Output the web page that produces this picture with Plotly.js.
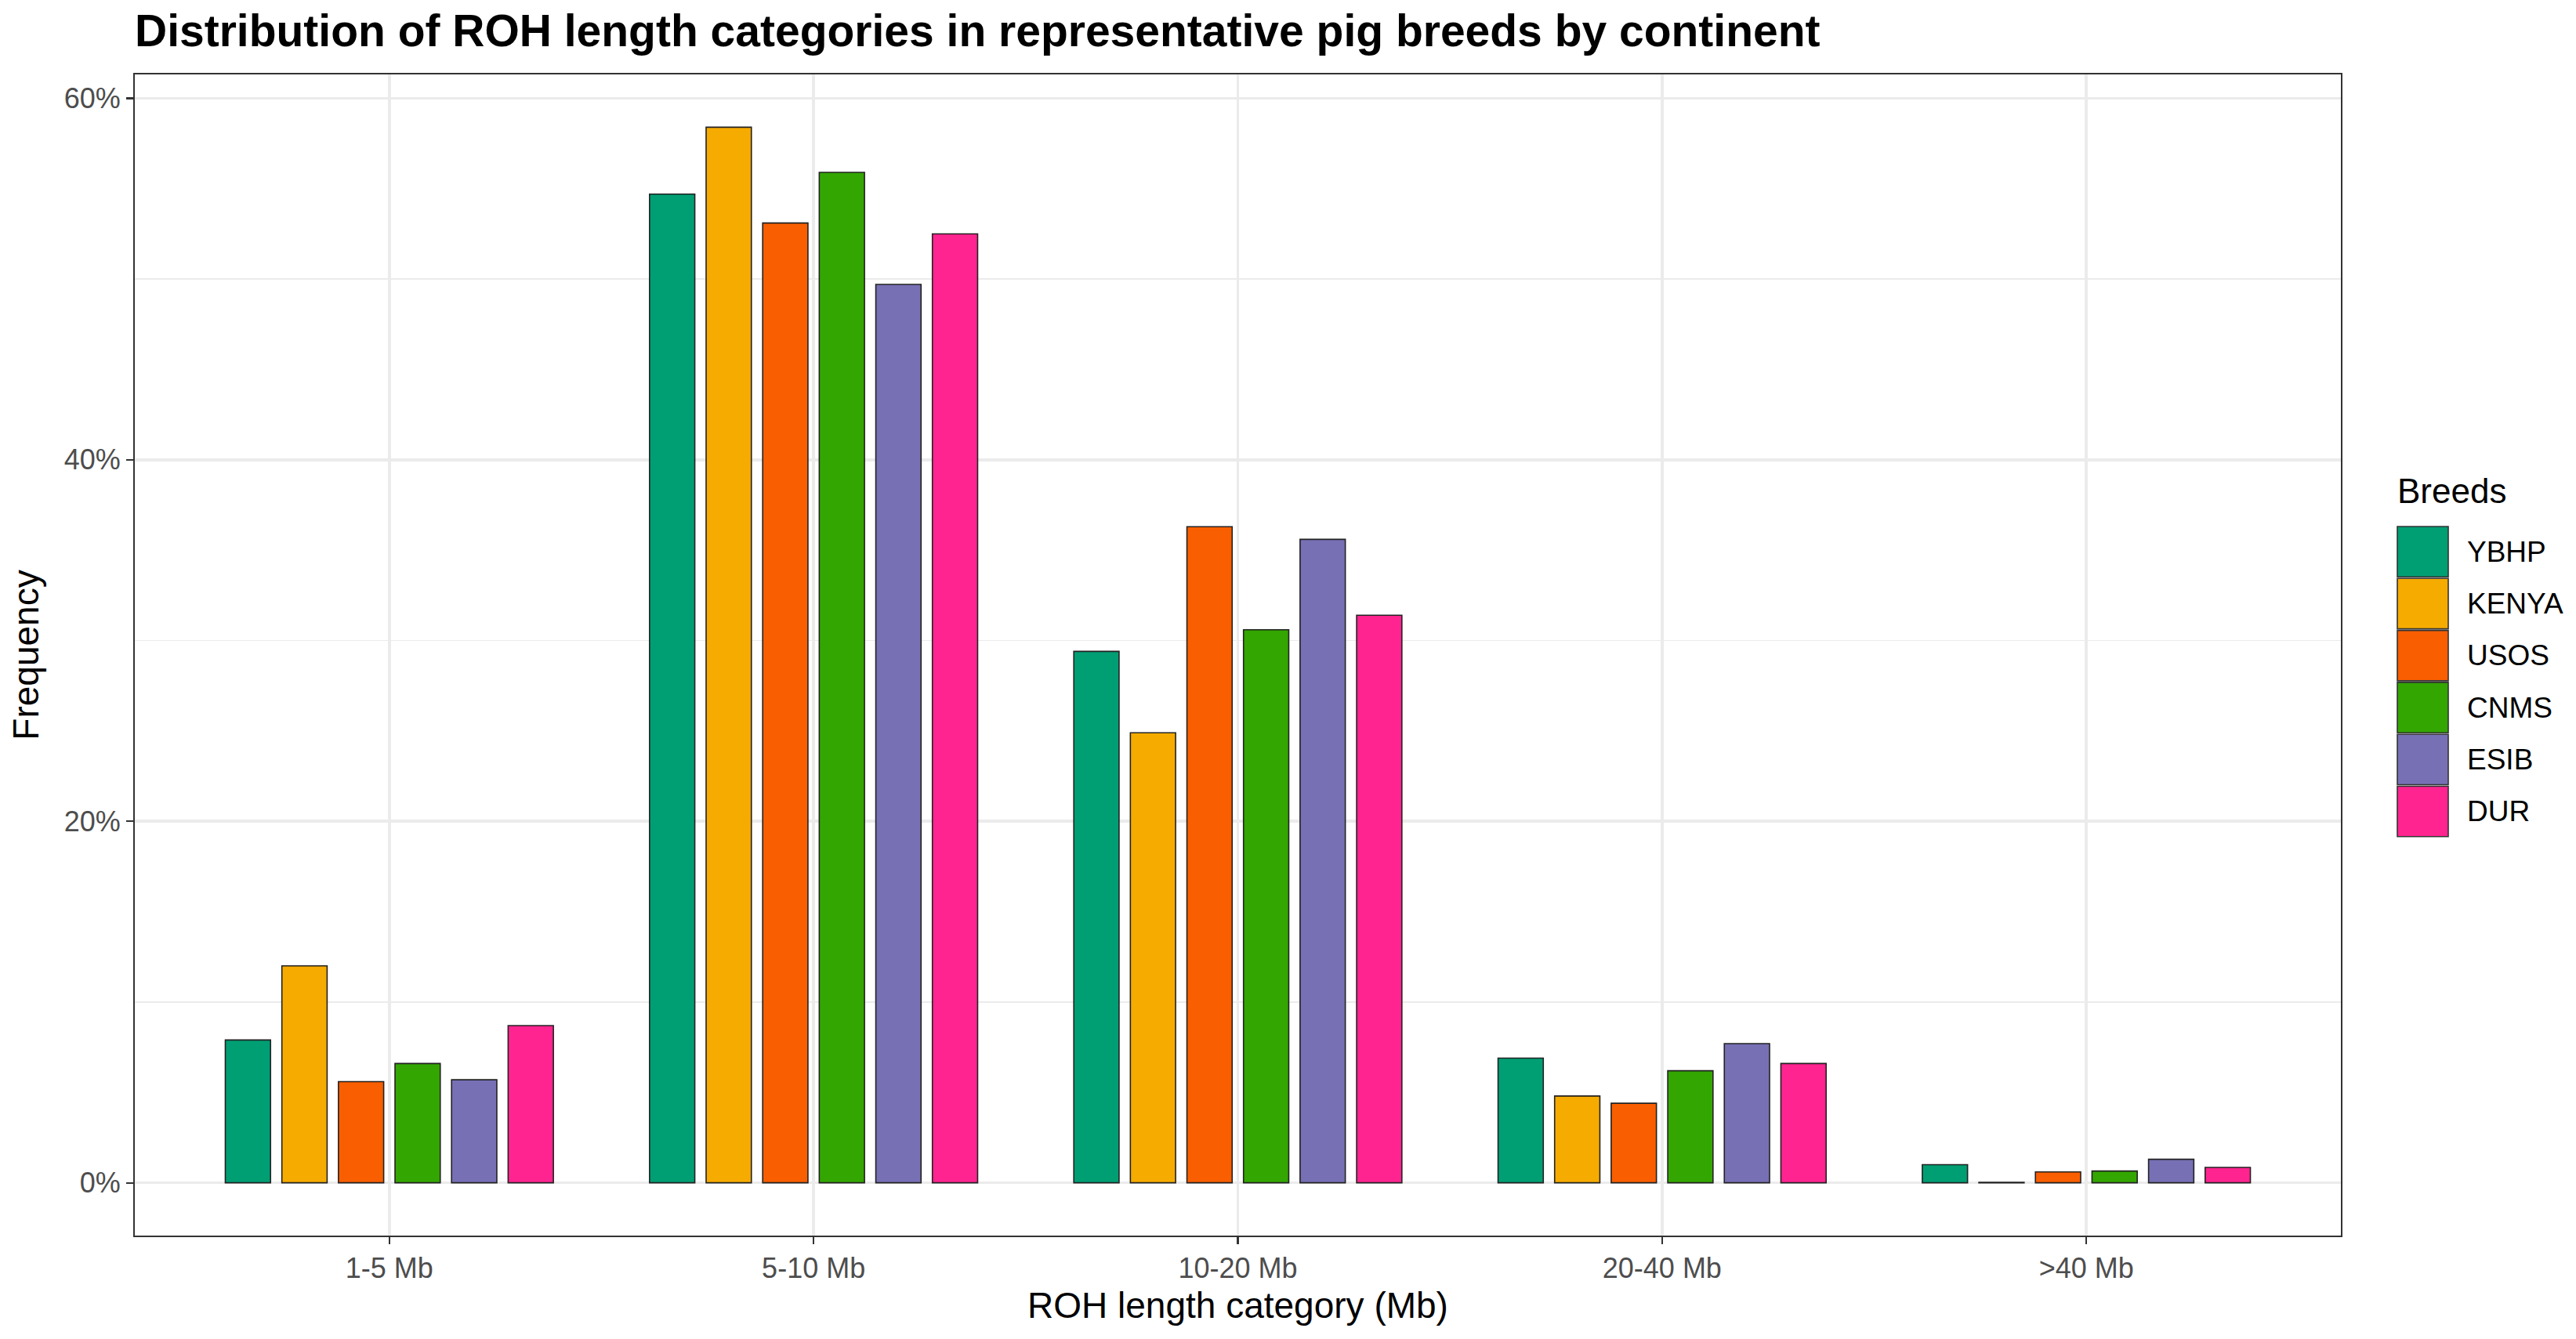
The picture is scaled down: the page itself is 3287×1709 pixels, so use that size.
<!DOCTYPE html>
<html>
<head>
<meta charset="utf-8">
<script src="https://cdn.plot.ly/plotly-3.0.1.min.js"></script>
<style>
  html, body { margin: 0; padding: 0; background: #fff; }
  #chart { width: 3287px; height: 1709px; }
</style>
</head>
<body>
<div id="chart"></div>
<script>
"use strict";

// ROH length categories on the x axis
const categories = ["1-5 Mb", "5-10 Mb", "10-20 Mb", "20-40 Mb", ">40 Mb"];

// breeds (legend order) and their fill colours
const breeds = ["YBHP", "KENYA", "USOS", "CNMS", "ESIB", "DUR"];
const breedColors = ["#009E73", "#F6AB00", "#F95E00", "#33A602", "#7770B5", "#FF2490"];

// frequency (%) per breed, one value per category
const ybhp  = [7.9, 54.7, 29.4, 6.9, 1.0];
const kenya = [12.0, 58.4, 24.9, 4.8, 0.02];
const usos  = [5.6, 53.1, 36.3, 4.4, 0.6];
const cnms  = [6.6, 55.9, 30.6, 6.2, 0.65];
const esib  = [5.7, 49.7, 35.6, 7.7, 1.3];
const dur   = [8.7, 52.5, 31.4, 6.6, 0.85];

const seriesValues = [ybhp, kenya, usos, cnms, esib, dur];

const yTicks = [0, 20, 40, 60];

const W = 3287, H = 1709;
const plotLeft = 172, plotRight = 2987, plotTop = 95, plotBottom = 1577;

// helpers: pixel -> paper coords (used for the hand-drawn legend only)
function px(x) { return (x - plotLeft) / (plotRight - plotLeft); }
function py(y) { return (plotBottom - y) / (plotBottom - plotTop); }

let traces = breeds.map(function (name, i) {
    return {
        type: "bar",
        name: name,
        x: categories,
        y: seriesValues[i],
        marker: {
            color: breedColors[i],
            line: { color: "#222222", width: 1.6 }
        },
        hoverinfo: "x+y+name",
        showlegend: false
    };
});

// legend built as shapes + text so the keys get ggplot-sized squares
let shapes = [];
let annotations = [];
const keyLeft = 3059, keyRight = 3124, keyTop = 671, keyH = 66.3;
breeds.forEach(function (name, i) {
    let top = keyTop + i * keyH;
    shapes.push({
        type: "rect", xref: "paper", yref: "paper",
        x0: px(keyLeft), x1: px(keyRight),
        y0: py(top + keyH - 1), y1: py(top + 1),
        fillcolor: breedColors[i],
        line: { color: "#333333", width: 1.6 }
    });
    annotations.push({
        xref: "paper", yref: "paper",
        x: px(3146), y: py(top + keyH / 2),
        xanchor: "left", yanchor: "middle",
        text: name, showarrow: false,
        font: { family: "Liberation Sans, Arial, sans-serif", size: 37, color: "#000000" }
    });
});
annotations.push({
    xref: "paper", yref: "paper",
    x: px(3057), y: py(627),
    xanchor: "left", yanchor: "middle",
    text: "Breeds", showarrow: false,
    font: { family: "Liberation Sans, Arial, sans-serif", size: 44, color: "#000000" }
});

let layout = {
    width: W,
    height: H,
    margin: { l: plotLeft, r: W - plotRight, t: plotTop, b: H - plotBottom, pad: 0 },
    paper_bgcolor: "#FFFFFF",
    plot_bgcolor: "#FFFFFF",
    font: { family: "Liberation Sans, Arial, sans-serif", color: "#000000" },
    title: {
        text: "<b>Distribution of ROH length categories in representative pig breeds by continent</b>",
        xref: "container", yref: "container",
        x: plotLeft / W, xanchor: "left",
        y: 1 - 39 / H, yanchor: "middle",
        font: { size: 57, color: "#000000" }
    },
    barmode: "group",
    bargap: 0.2,
    bargroupgap: 0.2,
    showlegend: false,
    xaxis: {
        type: "category",
        range: [-0.6, categories.length - 0.4],
        showgrid: true,
        gridcolor: "#EBEBEB",
        gridwidth: 3.5,
        showline: true,
        mirror: true,
        linecolor: "#333333",
        linewidth: 2,
        ticks: "outside",
        ticklen: 9,
        tickwidth: 2.2,
        tickcolor: "#333333",
        tickfont: { size: 36, color: "#4D4D4D" },
        zeroline: false,
        title: {
            text: "ROH length category (Mb)",
            font: { size: 46, color: "#000000" },
            standoff: 12
        }
    },
    yaxis: {
        range: [-2.92, 61.32],
        tickvals: yTicks,
        ticktext: yTicks.map(function (v) { return v + "%"; }),
        showgrid: true,
        gridcolor: "#EBEBEB",
        gridwidth: 3.5,
        minor: {
            dtick: 10,
            tick0: 0,
            showgrid: true,
            gridcolor: "#EBEBEB",
            gridwidth: 1.8,
            ticks: ""
        },
        zeroline: false,
        showline: true,
        mirror: true,
        linecolor: "#333333",
        linewidth: 2,
        ticks: "outside",
        ticklen: 9,
        tickwidth: 2.2,
        tickcolor: "#333333",
        tickfont: { size: 36, color: "#4D4D4D" },
        title: {
            text: "Frequency",
            font: { size: 46, color: "#000000" },
            standoff: 18
        }
    },
    shapes: shapes,
    annotations: annotations
};

Plotly.newPlot("chart", traces, layout, { displayModeBar: false, staticPlot: true });
</script>
</body>
</html>
